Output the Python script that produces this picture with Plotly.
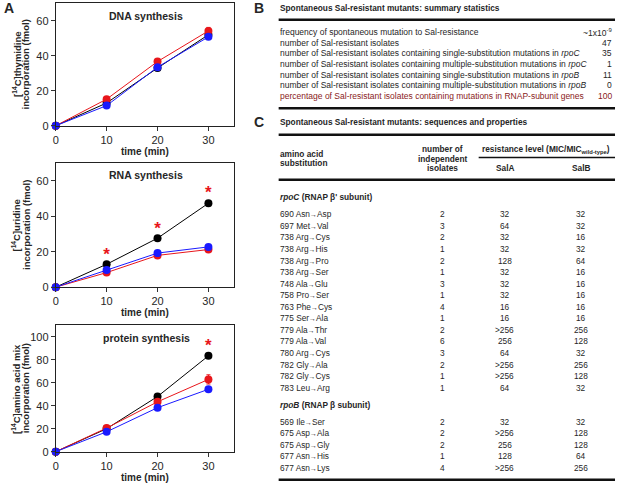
import plotly.graph_objects as go

W, H = 617, 490
FONT = "Liberation Sans, Arial, sans-serif"

# ---------------- Panel A data ----------------
time_min = [0, 10, 20, 30]

dna_black = [0, 13, 33, 52]
dna_red = [0, 15.2, 36.7, 54.2]
dna_blue = [0, 11.5, 33.5, 50.8]
dna_red_err = [0, 1, 1, 2]

rna_black = [0, 12.9, 27.6, 47.3]
rna_red = [0, 8.2, 17.9, 21.2]
rna_blue = [0, 9.7, 19.2, 22.7]
rna_black_err = [0, 0.8, 0.8, 1.5]

prot_black = [0, 20, 48, 83.4]
prot_red = [0, 20.6, 43.4, 62.9]
prot_blue = [0, 17.3, 38.3, 54.3]
prot_red_err = [0, 1, 1.5, 4]

rna_star_x = [10, 20, 30]
rna_star_y = [17.5, 32.5, 52.5]
prot_star_x = [30]
prot_star_y = [91]

panel_titles = ["DNA synthesis", "RNA synthesis", "protein synthesis"]
ytitle_line1 = ["[<sup>14</sup>C]thymidine", "[<sup>14</sup>C]uridine", "[<sup>14</sup>C]amino acid mix"]
ytitle_line2 = ["incorporation (fmol)"] * 3
x_ticks = [0, 10, 20, 30]
y_ticks = [[0, 20, 40, 60], [0, 20, 40, 60], [0, 20, 40, 60, 80, 100]]
y_ranges = [[0, 70], [0, 70], [0, 110]]

# ---------------- Table B data ----------------
summary_title = "Spontaneous Sal-resistant mutants: summary statistics"
summary_labels = [
    "frequency of spontaneous mutation to Sal-resistance",
    "number of Sal-resistant isolates",
    "number of Sal-resistant isolates containing single-substitution mutations in <i>rpoC</i>",
    "number of Sal-resistant isolates containing multiple-substitution mutations in <i>rpoC</i>",
    "number of Sal-resistant isolates containing single-substitution mutations in <i>rpoB</i>",
    "number of Sal-resistant isolates containing multiple-substitution mutations in <i>rpoB</i>",
    "percentage of Sal-resistant isolates containing mutations in RNAP-subunit genes",
]
summary_values = ["~1x10<sup>-9</sup>", "47", "35", "1", "11", "0", "100"]

# ---------------- Table C data ----------------
seq_title = "Spontaneous Sal-resistant mutants: sequences and properties"
rpoC_header = "<i>rpoC</i> (RNAP β' subunit)"
rpoC_subst = ["690 Asn→Asp", "697 Met→Val", "738 Arg→Cys", "738 Arg→His", "738 Arg→Pro",
              "738 Arg→Ser", "748 Ala→Glu", "758 Pro→Ser", "763 Phe→Cys", "775 Ser→Ala",
              "779 Ala→Thr", "779 Ala→Val", "780 Arg→Cys", "782 Gly→Ala", "782 Gly→Cys",
              "783 Leu→Arg"]
rpoC_n = [2, 3, 2, 1, 2, 1, 3, 1, 4, 1, 2, 6, 3, 2, 1, 1]
rpoC_salA = ["32", "64", "32", "32", "128", "32", "32", "32", "16", "16", ">256", "256", "64", ">256", ">256", "64"]
rpoC_salB = ["32", "32", "16", "32", "64", "16", "16", "16", "16", "16", "256", "128", "32", "256", "128", "32"]
rpoB_header = "<i>rpoB</i> (RNAP β subunit)"
rpoB_subst = ["569 Ile→Ser", "675 Asp→Ala", "675 Asp→Gly", "677 Asn→His", "677 Asn→Lys"]
rpoB_n = [2, 2, 2, 1, 4]
rpoB_salA = ["32", ">256", "256", "128", ">256"]
rpoB_salB = ["32", "128", "128", "64", "256"]

BLACK, RED, BLUE = "#000000", "#e8161b", "#1a1aff"
DARKRED = "#8a1b22"
TXT = "#262626"

# ---------------- geometry (pixels) ----------------
PX_L, PX_R = 53, 232
panel_px = [(3.3, 127.3), (165, 290.7), (329.3, 457.3)]


def px_x(x):
    return x / W


def px_y(y):
    return 1 - y / H


def arrowfmt(s):
    return s.replace("→", '<span style="font-family:Noto Sans;font-size:7px">→</span>')


fig = go.Figure()
annotations = []
shapes = []


def txt(x, y, s, size=8, color=TXT, anchor="left", angle=0):
    annotations.append(dict(x=px_x(x), y=px_y(y), xref="paper", yref="paper", text=s,
                            showarrow=False, xanchor=anchor, yanchor="middle", textangle=angle,
                            borderpad=0, font=dict(family=FONT, size=size, color=color)))


def hline(x0, x1, y, w):
    shapes.append(dict(type="line", xref="paper", yref="paper", x0=px_x(x0), x1=px_x(x1),
                       y0=px_y(y), y1=px_y(y), line=dict(color="#111111", width=w)))


series = [
    (dna_black, None, dna_red, dna_red_err, dna_blue, None),
    (rna_black, rna_black_err, rna_red, None, rna_blue, None),
    (prot_black, None, prot_red, prot_red_err, prot_blue, None),
]

for i, (bk, bke, rd, rde, bl, ble) in enumerate(series):
    xa = "x" if i == 0 else f"x{i+1}"
    ya = "y" if i == 0 else f"y{i+1}"
    for vals, err, col in [(bk, bke, BLACK), (rd, rde, RED), (bl, ble, BLUE)]:
        fig.add_trace(go.Scatter(
            x=time_min, y=vals, xaxis=xa, yaxis=ya, mode="lines+markers",
            line=dict(color=col, width=1), marker=dict(color=col, size=8),
            error_y=dict(type="data", array=err if err is not None else [0, 0, 0, 0], color=col,
                         thickness=1, width=2, visible=err is not None),
            cliponaxis=False, showlegend=False, hoverinfo="skip"))

fig.add_trace(go.Scatter(x=rna_star_x, y=rna_star_y, xaxis="x2", yaxis="y2", mode="text", text=["<b>*</b>"] * len(rna_star_x),
                         textfont=dict(family=FONT, size=17, color=RED), cliponaxis=False, showlegend=False))
fig.add_trace(go.Scatter(x=prot_star_x, y=prot_star_y, xaxis="x3", yaxis="y3", mode="text", text=["<b>*</b>"] * len(prot_star_x),
                         textfont=dict(family=FONT, size=17, color=RED), cliponaxis=False, showlegend=False))

layout_axes = {}
for i, (top, bot) in enumerate(panel_px):
    xk = "xaxis" if i == 0 else f"xaxis{i+1}"
    yk = "yaxis" if i == 0 else f"yaxis{i+1}"
    ya = "y" if i == 0 else f"y{i+1}"
    xa = "x" if i == 0 else f"x{i+1}"
    layout_axes[xk] = dict(domain=[px_x(PX_L), px_x(PX_R)], anchor=ya, range=[0, 35], tickvals=x_ticks,
                           ticks="outside", ticklen=4, tickcolor="#333", showline=True, mirror=True,
                           linecolor="#222", linewidth=1, showgrid=False, zeroline=False,
                           tickfont=dict(family=FONT, size=11, color=TXT))
    layout_axes[yk] = dict(domain=[px_y(bot), px_y(top)], anchor=xa, range=y_ranges[i], tickvals=y_ticks[i],
                           ticks="outside", ticklen=4, tickcolor="#333", showline=True, mirror=True,
                           linecolor="#222", linewidth=1, showgrid=False, zeroline=False,
                           tickfont=dict(family=FONT, size=11, color=TXT))
    mid = (top + bot) / 2
    txt(13.5, mid, "<b>" + ytitle_line1[i] + "</b>", size=9.5, anchor="center", angle=-90)
    txt(23, mid, "<b>" + ytitle_line2[i] + "</b>", size=9.5, anchor="center", angle=-90)
    txt(143, bot + 26, "<b>time (min)</b>", size=10, anchor="center")
    txt(144, top + 12.5, "<b>" + panel_titles[i] + "</b>", size=10.5, anchor="center")

txt(6, 8, "<b>A</b>", size=14, anchor="center")

# ---------------- Table B ----------------
TL, TR = 277, 615
FB, FC = 8.5, 8.3
txt(257, 8, "<b>B</b>", size=14, anchor="center")
txt(TL, 8.5, "<b>" + summary_title + "</b>", size=8.3)
hline(TL, TR, 20, 2.5)
for j, (lab, val) in enumerate(zip(summary_labels, summary_values)):
    y = 32.5 + j * 10.8
    col = DARKRED if j == len(summary_labels) - 1 else TXT
    txt(TL, y, lab, size=FB, color=col)
    txt(613, y, val, size=FB, color=col, anchor="right")
hline(TL, TR, 109.5, 2.5)

# ---------------- Table C ----------------
txt(257, 123.5, "<b>C</b>", size=14, anchor="center")
txt(TL, 124, "<b>" + seq_title + "</b>", size=8.3)
hline(TL, TR, 136.5, 2.5)

X_N, X_A, X_B = 442, 504, 581
txt(TL, 155.5, "<b>amino acid</b>", size=FC)
txt(TL, 165, "<b>substitution</b>", size=FC)
txt(X_N, 151, "<b>number of</b>", size=FC, anchor="center")
txt(X_N, 160.5, "<b>independent</b>", size=FC, anchor="center")
txt(X_N, 170, "<b>isolates</b>", size=FC, anchor="center")
txt(546, 151, "<b>resistance level (MIC/MIC<sub>wild-type</sub>)</b>", size=FC, anchor="center")
hline(478, TR, 159.5, 1.5)
txt(X_A, 170.5, "<b>SalA</b>", size=FC, anchor="center")
txt(X_B, 170.5, "<b>SalB</b>", size=FC, anchor="center")
hline(TL, TR, 182, 2.5)

txt(TL, 199, "<b>" + rpoC_header + "</b>", size=FC)
ROW = 11.7
Y0 = 217
for j in range(len(rpoC_subst)):
    y = Y0 + j * ROW
    txt(TL, y, arrowfmt(rpoC_subst[j]), size=FC)
    txt(X_N, y, str(rpoC_n[j]), size=FC, anchor="center")
    txt(X_A, y, rpoC_salA[j], size=FC, anchor="center")
    txt(X_B, y, rpoC_salB[j], size=FC, anchor="center")

yb = Y0 + (len(rpoC_subst) - 1) * ROW + 17.5
txt(TL, yb, "<b>" + rpoB_header + "</b>", size=FC)
for j in range(len(rpoB_subst)):
    y = yb + 17 + j * ROW
    txt(TL, y, arrowfmt(rpoB_subst[j]), size=FC)
    txt(X_N, y, str(rpoB_n[j]), size=FC, anchor="center")
    txt(X_A, y, rpoB_salA[j], size=FC, anchor="center")
    txt(X_B, y, rpoB_salB[j], size=FC, anchor="center")
hline(TL, TR, yb + 17 + (len(rpoB_subst) - 1) * ROW + 12, 2.5)

fig.update_layout(width=W, height=H, margin=dict(l=0, r=0, t=0, b=0), paper_bgcolor="white",
                  plot_bgcolor="white", annotations=annotations, shapes=shapes, showlegend=False,
                  font=dict(family=FONT), **layout_axes)

fig.write_html("out.html", config={"displayModeBar": False},
               post_script="document.body.style.margin='0';document.body.style.overflow='hidden';")
